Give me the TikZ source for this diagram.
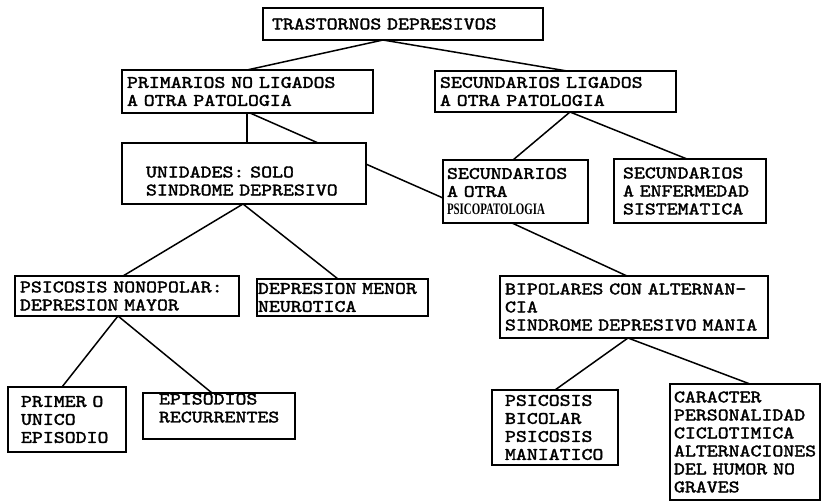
\documentclass[tikz,border=0pt]{standalone}
\usepackage{fontspec}
\usepackage{graphicx}
\newfontfamily\maquina[FakeStretch=1.19,FakeBold=2,HyphenChar=None]{lmmono10-regular.otf}
\newfontfamily\letrafina{Liberation Serif}
\usetikzlibrary{backgrounds}

\begin{document}
\begin{tikzpicture}[x=1pt,y=-1pt,line width=1.5pt,
  caja/.style={draw,fill=white,anchor=north west,align=left,inner ysep=0pt,outer sep=0pt,font=\maquina\fontsize{17.5}{18}\selectfont}]
\useasboundingbox (0,0) rectangle (822,503);
% nivel 1 y 2
\node[caja,text width=262pt,inner xsep=9pt,minimum height=32pt] (trastornos) at (263,8) {TRASTORNOS DEPRESIVOS};
\node[caja,text width=241pt,inner xsep=5pt,minimum height=43pt] (primarios) at (122,70) {PRIMARIOS NO LIGADOS\\A OTRA PATOLOGIA};
\node[caja,text width=231pt,inner xsep=5pt,minimum height=41pt] (secundarios) at (435,71) {SECUNDARIOS LIGADOS\\A OTRA PATOLOGIA};
% nivel 3
\node[caja,text width=196pt,inner xsep=24pt,minimum height=61pt] (unidades) at (122,143) {\rule{0pt}{26pt}UNIDADES: SOLO\\SINDROME DEPRESIVO};
\node[caja,text width=137pt,inner xsep=4pt,minimum height=63pt] (psicopat) at (443,160) {SECUNDARIOS\\A OTRA\\\scalebox{0.68}[1]{\fontsize{16}{18}\letrafina\bfseries PSICOPATOLOGIA}};
\node[caja,text width=134pt,inner xsep=9pt,minimum height=64pt] (enfermedad) at (614,159) {SECUNDARIOS\\A ENFERMEDAD\\SISTEMATICA};
% nivel 4
\node[caja,text width=214pt,inner xsep=5pt,minimum height=40pt] (monopolar) at (15,276) {PSICOSIS NONOPOLAR:\\DEPRESION MAYOR};
\node[caja,text width=169pt,inner xsep=1pt,minimum height=37pt] (menor) at (257,279) {DEPRESION MENOR\\NEUROTICA};
\node[caja,text width=258pt,inner xsep=5pt,minimum height=62pt] (bipolares) at (500,276) {BIPOLARES CON ALTERNAN-\\CIA\\SINDROME DEPRESIVO MANIA};
% nivel 5
\node[caja,text width=92pt,inner xsep=13pt,minimum height=65pt] (primer) at (8,387) {PRIMER O\\UNICO\\EPISODIO};
\node[caja,text width=120pt,inner xsep=16pt,minimum height=46pt] (recurrentes) at (143,393) {EPISODIOS\\RECURRENTES\rule[-16pt]{0pt}{0pt}};
\node[caja,text width=100pt,inner xsep=13pt,minimum height=75pt] (bicolar) at (492,390) {PSICOSIS\\BICOLAR\\PSICOSIS\\MANIATICO};
\node[caja,text width=142pt,inner xsep=4pt,minimum height=116pt] (caracter) at (670,384) {CARACTER\\PERSONALIDAD\\CICLOTIMICA\\ALTERNACIONES\\DEL HUMOR NO\\GRAVES};
% conectores
\foreach \a/\da/\b/\db in {trastornos/120/primarios/125,trastornos/120/secundarios/132,
  primarios/125/unidades/125,secundarios/135/psicopat/70,secundarios/135/enfermedad/73,
  unidades/121/monopolar/108,unidades/121/menor/81,psicopat/69/bipolares/127,
  monopolar/103/primer/54,monopolar/103/recurrentes/69,
  bipolares/128/bicolar/63,bipolares/128/caracter/80}
  {\draw ([xshift=\da pt]\a.south west) -- ([xshift=\db pt]\b.north west);};
\begin{pgfonlayer}{background}
\draw[line width=1.5pt] ([xshift=128pt]primarios.south west) -- ([yshift=-38pt]psicopat.north west);
\end{pgfonlayer}
\end{tikzpicture}
\end{document}
